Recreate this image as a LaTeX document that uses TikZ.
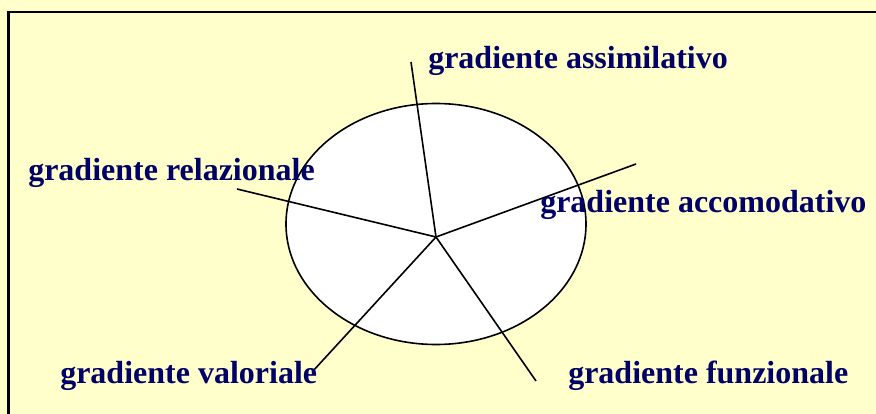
\documentclass[tikz,border=0pt]{standalone}
\usepackage{fontspec}
\setmainfont{Liberation Serif}
\definecolor{paleyellow}{RGB}{255,255,204}
\definecolor{navytext}{RGB}{0,0,102}
\tikzset{grad/.style={anchor=base west, inner sep=0pt, text=navytext, font=\fontsize{24}{28}\selectfont\bfseries}}
\begin{document}
\begin{tikzpicture}[x=0.75pt,y=-0.75pt]
\fill[paleyellow] (0,0) rectangle (876,414);
\clip (0,0) rectangle (876,414);
\draw[line width=2pt] (8.5,12) rectangle (900,440);
\draw[line width=1.2pt, fill=white] (436,224) ellipse (150 and 120.5);
\coordinate (hub) at (436,237);
\coordinate (e1) at (411,62);  \draw[line width=1.2pt] (hub)--(e1);
\coordinate (e2) at (636,164); \draw[line width=1.2pt] (hub)--(e2);
\coordinate (e3) at (536,381); \draw[line width=1.2pt] (hub)--(e3);
\coordinate (e4) at (313,371); \draw[line width=1.2pt] (hub)--(e4);
\coordinate (e5) at (237,189); \draw[line width=1.2pt] (hub)--(e5);
\node[grad] (assim) at (428,68) {gradiente assimilativo};
\node[grad] (accom) at (540,212) {gradiente accomodativo};
\node[grad] (funz) at (568,383) {gradiente funzionale};
\node[grad] (valor) at (60,383) {gradiente valoriale};
\node[grad] (relaz) at (28,180) {gradiente relazionale};
\end{tikzpicture}
\end{document}
